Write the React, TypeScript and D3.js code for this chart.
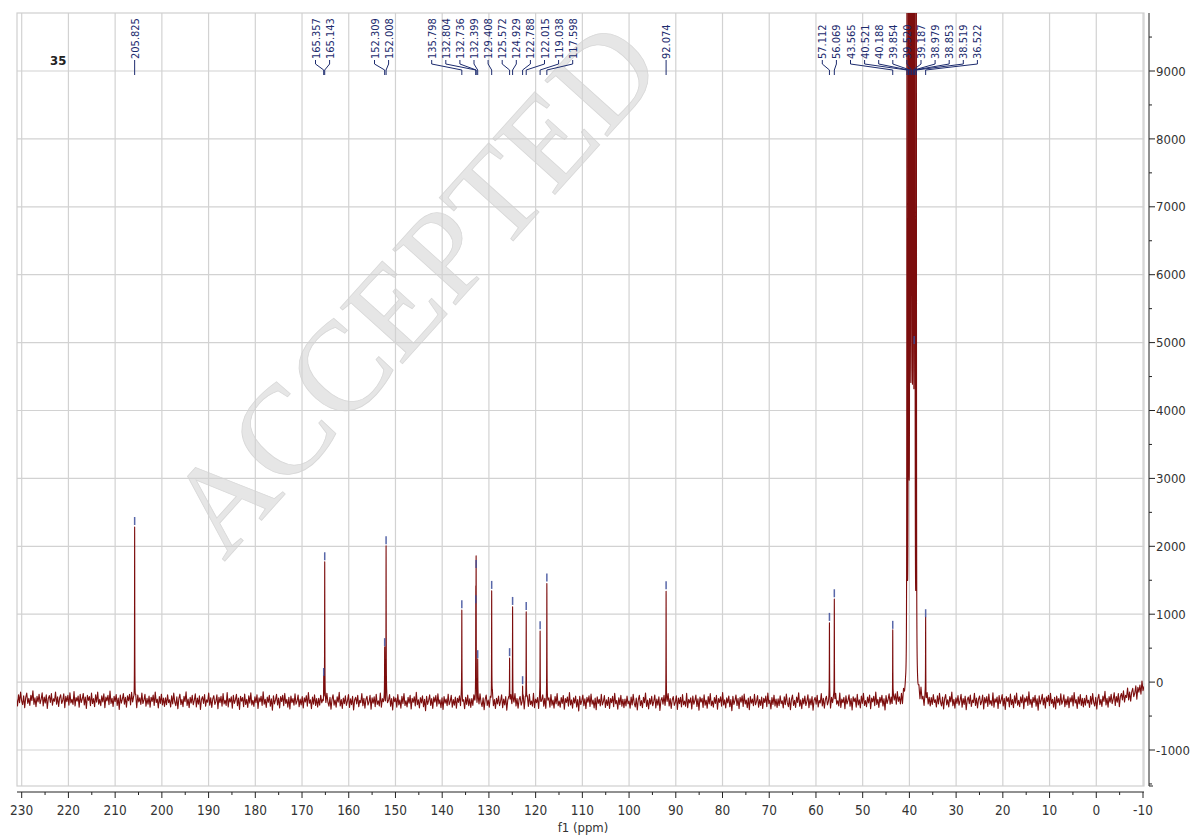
import React from "react";
import * as d3 from "d3";

// ---------- data ----------
const PEAK_PPM = [
  205.825, 165.357, 165.143, 152.309, 152.008, 135.798, 132.804, 132.736, 132.399,
  129.408, 125.572, 124.929, 122.788, 122.015, 119.038, 117.598, 92.074, 57.112,
  56.069, 43.565, 40.521, 40.188, 39.854, 39.52, 39.187, 38.979, 38.853, 38.519, 36.522,
];
// intensity at each peak top (DMSO septet runs off scale)
const PEAK_TOP = [
  2284, 60, 1765, 500, 2000, 1059, 1130, 1650, 323,
  1343, 353, 1107, -60, 1034, 750, 1451, 1338, 872,
  1220, 755, 14000, 38000, 70000, 84000, 70000, 4950, 38000, 14000, 926,
];
const PEAK_LABELS = PEAK_PPM.map((p) => p.toFixed(3));

// baseline level along the spectrum
const BASE_PPM = [232, 200, 150, 100, 50, 20, 0, -4, -7, -9, -10, -12];
const BASE_VAL = [-255, -272, -285, -290, -285, -280, -278, -255, -195, -125, -80, -40];

// baseline noise texture (hand-estimated amplitudes)
const NOISE = [
  40, -62, 85, -30, 12, -95, 70, -48, 110, -20, -75, 55, -120, 30, 95, -58, 18, -88, 64, -15,
  130, -70, 25, -105, 48, -35, 80, -60, 5, 100, -92, 38, -50, 72, -128, 20, 60, -40, 90, -80,
  15, -22, 115, -65, 45, -100, 28, 75, -55, -10, 88, -115, 52, -28, 66, -78, 105, -45, 8, -68,
  122, -90, 35, -18, 58, -108, 82, -38, 14, 96, -72, 42, -125, 68, -5, 50, -85, 102, -52, 22,
  -98, 76, -32, 118, -60, 10, -82, 62, -26, 92, -112, 46, -12, 70, -66, 135, -48, 26, -94, 56,
  -20, 84, -76, 32, -135, 78, -42, 16, 98, -58, 44, -104, 64, -8, 86, -70, 112, -36, 24, -90,
  54, -118, 74, -24, 36, -62, 108, -46, 2, 90, -84, 30, -56, 66, -100, 48, -14, 80, -74, 126,
  -30, 20, -110, 60, -44, 94, -64, 38, -88,
];

const X_TICKS = d3.range(230, -11, -10);
const X_MINOR = d3.range(225, -10, -10);
const Y_TICKS = d3.range(-1000, 9001, 1000);
const Y_MINOR = d3.range(-1500, 9600, 1000);
const WATERMARK = "ACCEPTED";

// ---------- layout ----------
const W = 1196;
const H = 836;
const PLOT = { left: 17, top: 13, right: 1144, bottom: 786 };
const AXIS_Y = 792;
const YAXIS_X = 1149;
const GAMMA = 0.028;
const LABEL_SPACING = 14.1;
// label groups: [first index, count, x of first label]
const LABEL_GROUPS: [number, number, number | null][] = [
  [0, 1, null],
  [1, 2, 315.5],
  [3, 2, 374.5],
  [5, 11, 431.7],
  [16, 1, null],
  [17, 12, 822.3],
];

const x = d3.scaleLinear().domain([230, -10]).range([21.7, 1143]);
const y = d3.scaleLinear().domain([-1000, 9000]).range([750, 71]);

const baseAt = d3.scaleLinear().domain(BASE_PPM).range(BASE_VAL).clamp(true);
const KNOT = 0.22;
function noiseAt(p: number) {
  const t = (232 - p) / KNOT;
  const i = Math.floor(t);
  const f = t - i;
  const L = NOISE.length;
  const a = NOISE[((i % L) + L) % L];
  const b = NOISE[(((i + 1) % L) + L) % L];
  return a + (b - a) * f;
}

const AMPS = PEAK_PPM.map((p, i) => PEAK_TOP[i] - baseAt(p) - noiseAt(p));

function spectrumAt(p: number) {
  let v = baseAt(p) + noiseAt(p);
  for (let i = 0; i < PEAK_PPM.length; i++) {
    const d = (p - PEAK_PPM[i]) / GAMMA;
    v += AMPS[i] / (1 + d * d);
  }
  return v;
}

function buildSpectrum() {
  const pts: number[] = [];
  const n = Math.round((232 - -12) / 0.01);
  for (let k = 0; k <= n; k++) pts.push(232 - k * 0.01);
  PEAK_PPM.forEach((p) => pts.push(p));
  pts.sort((a, b) => b - a);
  return pts.map((p) => [p, spectrumAt(p)] as [number, number]);
}

export default function App() {
  const data = React.useMemo(buildSpectrum, []);
  const line = d3
    .line<[number, number]>()
    .x((d) => x(d[0]))
    .y((d) => y(d[1]));
  const pathD = line(data) || "";

  const labelFont = "'DejaVu Sans Condensed', 'DejaVu Sans', sans-serif";
  const axisFont = "'DejaVu Sans Condensed', 'DejaVu Sans', sans-serif";

  const labels: JSX.Element[] = [];
  LABEL_GROUPS.forEach(([start, count, x0], gi) => {
    for (let j = 0; j < count; j++) {
      const idx = start + j;
      const px = x(PEAK_PPM[idx]);
      const lx = x0 == null ? px : x0 + j * LABEL_SPACING;
      const d =
        x0 == null
          ? `M${px},60 L${px},75`
          : `M${lx},60 L${lx},64 L${px},70 L${px},75`;
      labels.push(
        <g key={`l${gi}-${j}`}>
          <path d={d} fill="none" stroke="#1c2b6e" strokeWidth={1} />
          <text
            transform={`translate(${lx + 4},59) rotate(-90)`}
            fontFamily={labelFont}
            fontStretch="condensed"
            fontSize={11}
            fill="#1c2b6e"
            textAnchor="start"
          >
            {PEAK_LABELS[idx]}
          </text>
        </g>
      );
    }
  });

  const markers = PEAK_PPM.map((p, i) => {
    const yt = y(PEAK_TOP[i]);
    if (yt < PLOT.top + 12) return null;
    return (
      <line
        key={`m${i}`}
        x1={x(p)}
        x2={x(p)}
        y1={yt - 10}
        y2={yt - 2}
        stroke="#3b4c9a"
        strokeOpacity={0.85}
        strokeWidth={1.5}
      />
    );
  });

  return (
    <svg
      width={W}
      height={H}
      style={{ position: "absolute", left: 0, top: 0, background: "#fff" }}
    >
      <defs>
        <clipPath id="plotclip">
          <rect
            x={PLOT.left}
            y={PLOT.top}
            width={PLOT.right - PLOT.left}
            height={PLOT.bottom - PLOT.top}
          />
        </clipPath>
      </defs>
      <rect x={0} y={0} width={W} height={H} fill="#fff" />

      {/* watermark */}
      <text
        transform="translate(224,562) rotate(-48)"
        fontFamily="'Liberation Serif', 'DejaVu Serif', serif"
        fontSize={128}
        fill="#e6e6e6"
        stroke="#d8d8d8"
        strokeWidth={0.8}
      >
        {WATERMARK}
      </text>

      {/* grid */}
      <g stroke="#d2d2d2" strokeWidth={1.2}>
        {X_TICKS.map((t) => (
          <line key={`gx${t}`} x1={x(t)} x2={x(t)} y1={PLOT.top} y2={PLOT.bottom} />
        ))}
        {Y_TICKS.map((t) => (
          <line key={`gy${t}`} x1={PLOT.left} x2={PLOT.right} y1={y(t)} y2={y(t)} />
        ))}
      </g>
      <rect
        x={PLOT.left}
        y={PLOT.top}
        width={PLOT.right - PLOT.left}
        height={PLOT.bottom - PLOT.top}
        fill="none"
        stroke="#cfcfcf"
        strokeWidth={1.2}
      />

      {/* spectrum */}
      <g clipPath="url(#plotclip)">
        <path d={pathD} fill="none" stroke="#7c0d0d" strokeWidth={1.1} strokeLinejoin="round" />
        {markers}
      </g>

      {/* peak labels */}
      {labels}

      <text x={50} y={65} fontFamily={axisFont} fontWeight="bold" fontSize={13} fill="#222">
        35
      </text>

      {/* x axis */}
      <line x1={PLOT.left} x2={PLOT.right} y1={AXIS_Y} y2={AXIS_Y} stroke="#222" strokeWidth={1} />
      {X_TICKS.map((t) => (
        <g key={`xt${t}`}>
          <line x1={x(t)} x2={x(t)} y1={AXIS_Y} y2={AXIS_Y + 6} stroke="#222" />
          <text
            x={x(t)}
            y={815}
            textAnchor="middle"
            fontFamily={axisFont}
            fontSize={13.5}
            fill="#333"
          >
            {t}
          </text>
        </g>
      ))}
      {X_MINOR.map((t) => (
        <line key={`xm${t}`} x1={x(t)} x2={x(t)} y1={AXIS_Y} y2={AXIS_Y + 3} stroke="#222" />
      ))}
      <text x={583} y={832} textAnchor="middle" fontFamily={axisFont} fontSize={13} fill="#333">
        f1 (ppm)
      </text>

      {/* y axis */}
      <line x1={YAXIS_X} x2={YAXIS_X} y1={PLOT.top} y2={PLOT.bottom} stroke="#222" strokeWidth={1} />
      {Y_TICKS.map((t) => (
        <g key={`yt${t}`}>
          <line x1={YAXIS_X} x2={YAXIS_X + 6} y1={y(t)} y2={y(t)} stroke="#222" />
          <text
            x={YAXIS_X + 7}
            y={y(t)}
            dy="0.36em"
            fontFamily={axisFont}
            fontSize={13}
            fill="#333"
          >
            {t}
          </text>
        </g>
      ))}
      {Y_MINOR.map((t) => (
        <line key={`ym${t}`} x1={YAXIS_X} x2={YAXIS_X + 3} y1={y(t)} y2={y(t)} stroke="#222" />
      ))}
      <line x1={YAXIS_X} x2={YAXIS_X + 4} y1={PLOT.bottom} y2={PLOT.bottom} stroke="#222" />
    </svg>
  );
}
